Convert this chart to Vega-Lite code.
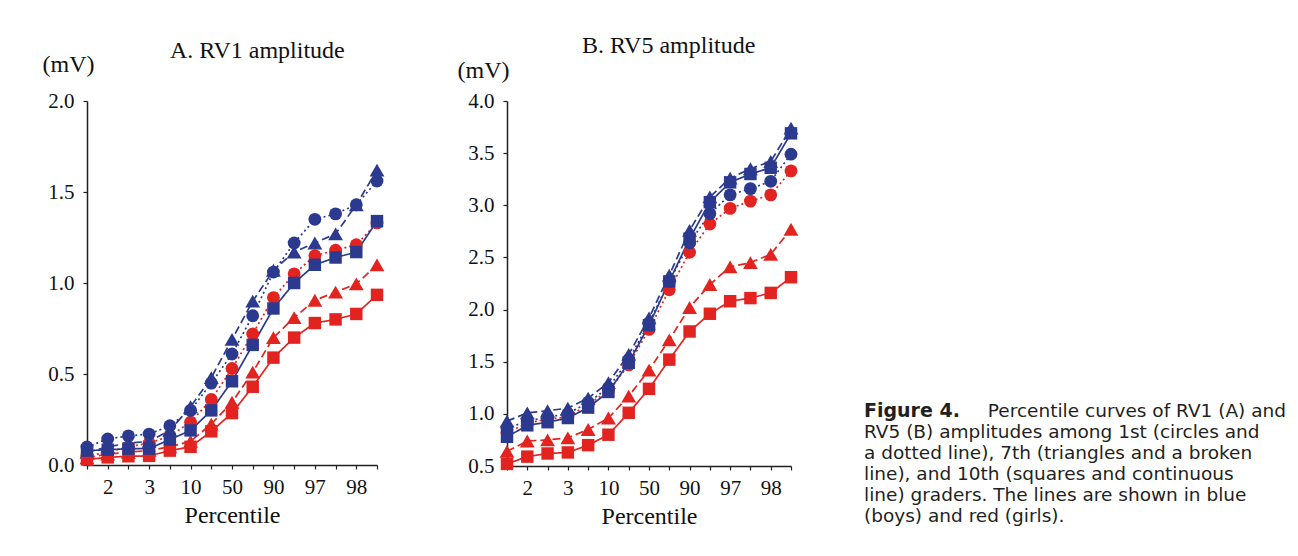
{
  "$schema": "https://vega.github.io/schema/vega-lite/v6.json",
  "background": "white",
  "padding": {"left": 42, "top": 34, "right": 5, "bottom": 5},
  "bounds": "flush",
  "spacing": 130,
  "datasets": {
    "rv1": [
      {"p":"1","s":"Girls","g":"10th","v":0.03},{"p":"2","s":"Girls","g":"10th","v":0.042},{"p":"2.5","s":"Girls","g":"10th","v":0.048},{"p":"3","s":"Girls","g":"10th","v":0.05},{"p":"5","s":"Girls","g":"10th","v":0.079},{"p":"10","s":"Girls","g":"10th","v":0.10},{"p":"25","s":"Girls","g":"10th","v":0.185},{"p":"50","s":"Girls","g":"10th","v":0.285},{"p":"75","s":"Girls","g":"10th","v":0.43},{"p":"90","s":"Girls","g":"10th","v":0.59},{"p":"95","s":"Girls","g":"10th","v":0.70},{"p":"97","s":"Girls","g":"10th","v":0.78},{"p":"97.5","s":"Girls","g":"10th","v":0.80},{"p":"98","s":"Girls","g":"10th","v":0.83},{"p":"99","s":"Girls","g":"10th","v":0.935},
      {"p":"1","s":"Girls","g":"7th","v":0.04},{"p":"2","s":"Girls","g":"7th","v":0.06},{"p":"2.5","s":"Girls","g":"7th","v":0.07},{"p":"3","s":"Girls","g":"7th","v":0.08},{"p":"5","s":"Girls","g":"7th","v":0.10},{"p":"10","s":"Girls","g":"7th","v":0.13},{"p":"25","s":"Girls","g":"7th","v":0.225},{"p":"50","s":"Girls","g":"7th","v":0.345},{"p":"75","s":"Girls","g":"7th","v":0.51},{"p":"90","s":"Girls","g":"7th","v":0.70},{"p":"95","s":"Girls","g":"7th","v":0.81},{"p":"97","s":"Girls","g":"7th","v":0.905},{"p":"97.5","s":"Girls","g":"7th","v":0.95},{"p":"98","s":"Girls","g":"7th","v":0.995},{"p":"99","s":"Girls","g":"7th","v":1.10},
      {"p":"1","s":"Girls","g":"1st","v":0.05},{"p":"2","s":"Girls","g":"1st","v":0.07},{"p":"2.5","s":"Girls","g":"1st","v":0.10},{"p":"3","s":"Girls","g":"1st","v":0.12},{"p":"5","s":"Girls","g":"1st","v":0.16},{"p":"10","s":"Girls","g":"1st","v":0.235},{"p":"25","s":"Girls","g":"1st","v":0.36},{"p":"50","s":"Girls","g":"1st","v":0.53},{"p":"75","s":"Girls","g":"1st","v":0.72},{"p":"90","s":"Girls","g":"1st","v":0.92},{"p":"95","s":"Girls","g":"1st","v":1.05},{"p":"97","s":"Girls","g":"1st","v":1.15},{"p":"97.5","s":"Girls","g":"1st","v":1.18},{"p":"98","s":"Girls","g":"1st","v":1.21},{"p":"99","s":"Girls","g":"1st","v":1.33},
      {"p":"1","s":"Boys","g":"10th","v":0.079},{"p":"2","s":"Boys","g":"10th","v":0.084},{"p":"2.5","s":"Boys","g":"10th","v":0.09},{"p":"3","s":"Boys","g":"10th","v":0.09},{"p":"5","s":"Boys","g":"10th","v":0.14},{"p":"10","s":"Boys","g":"10th","v":0.19},{"p":"25","s":"Boys","g":"10th","v":0.30},{"p":"50","s":"Boys","g":"10th","v":0.46},{"p":"75","s":"Boys","g":"10th","v":0.66},{"p":"90","s":"Boys","g":"10th","v":0.86},{"p":"95","s":"Boys","g":"10th","v":1.00},{"p":"97","s":"Boys","g":"10th","v":1.10},{"p":"97.5","s":"Boys","g":"10th","v":1.14},{"p":"98","s":"Boys","g":"10th","v":1.17},{"p":"99","s":"Boys","g":"10th","v":1.34},
      {"p":"1","s":"Boys","g":"7th","v":0.07},{"p":"2","s":"Boys","g":"7th","v":0.10},{"p":"2.5","s":"Boys","g":"7th","v":0.12},{"p":"3","s":"Boys","g":"7th","v":0.13},{"p":"5","s":"Boys","g":"7th","v":0.19},{"p":"10","s":"Boys","g":"7th","v":0.32},{"p":"25","s":"Boys","g":"7th","v":0.48},{"p":"50","s":"Boys","g":"7th","v":0.69},{"p":"75","s":"Boys","g":"7th","v":0.90},{"p":"90","s":"Boys","g":"7th","v":1.07},{"p":"95","s":"Boys","g":"7th","v":1.17},{"p":"97","s":"Boys","g":"7th","v":1.22},{"p":"97.5","s":"Boys","g":"7th","v":1.27},{"p":"98","s":"Boys","g":"7th","v":1.43},{"p":"99","s":"Boys","g":"7th","v":1.62},
      {"p":"1","s":"Boys","g":"1st","v":0.099},{"p":"2","s":"Boys","g":"1st","v":0.143},{"p":"2.5","s":"Boys","g":"1st","v":0.16},{"p":"3","s":"Boys","g":"1st","v":0.17},{"p":"5","s":"Boys","g":"1st","v":0.216},{"p":"10","s":"Boys","g":"1st","v":0.30},{"p":"25","s":"Boys","g":"1st","v":0.45},{"p":"50","s":"Boys","g":"1st","v":0.61},{"p":"75","s":"Boys","g":"1st","v":0.82},{"p":"90","s":"Boys","g":"1st","v":1.06},{"p":"95","s":"Boys","g":"1st","v":1.22},{"p":"97","s":"Boys","g":"1st","v":1.35},{"p":"97.5","s":"Boys","g":"1st","v":1.38},{"p":"98","s":"Boys","g":"1st","v":1.43},{"p":"99","s":"Boys","g":"1st","v":1.56}
    ],
    "rv5": [
      {"p":"1","s":"Girls","g":"10th","v":0.52},{"p":"2","s":"Girls","g":"10th","v":0.59},{"p":"2.5","s":"Girls","g":"10th","v":0.62},{"p":"3","s":"Girls","g":"10th","v":0.63},{"p":"5","s":"Girls","g":"10th","v":0.70},{"p":"10","s":"Girls","g":"10th","v":0.80},{"p":"25","s":"Girls","g":"10th","v":1.01},{"p":"50","s":"Girls","g":"10th","v":1.24},{"p":"75","s":"Girls","g":"10th","v":1.52},{"p":"90","s":"Girls","g":"10th","v":1.79},{"p":"95","s":"Girls","g":"10th","v":1.96},{"p":"97","s":"Girls","g":"10th","v":2.08},{"p":"97.5","s":"Girls","g":"10th","v":2.11},{"p":"98","s":"Girls","g":"10th","v":2.16},{"p":"99","s":"Girls","g":"10th","v":2.31},
      {"p":"1","s":"Girls","g":"7th","v":0.64},{"p":"2","s":"Girls","g":"7th","v":0.74},{"p":"2.5","s":"Girls","g":"7th","v":0.75},{"p":"3","s":"Girls","g":"7th","v":0.77},{"p":"5","s":"Girls","g":"7th","v":0.85},{"p":"10","s":"Girls","g":"7th","v":0.96},{"p":"25","s":"Girls","g":"7th","v":1.17},{"p":"50","s":"Girls","g":"7th","v":1.42},{"p":"75","s":"Girls","g":"7th","v":1.71},{"p":"90","s":"Girls","g":"7th","v":2.02},{"p":"95","s":"Girls","g":"7th","v":2.24},{"p":"97","s":"Girls","g":"7th","v":2.41},{"p":"97.5","s":"Girls","g":"7th","v":2.45},{"p":"98","s":"Girls","g":"7th","v":2.53},{"p":"99","s":"Girls","g":"7th","v":2.77},
      {"p":"1","s":"Girls","g":"1st","v":0.82},{"p":"2","s":"Girls","g":"1st","v":0.91},{"p":"2.5","s":"Girls","g":"1st","v":0.95},{"p":"3","s":"Girls","g":"1st","v":0.97},{"p":"5","s":"Girls","g":"1st","v":1.09},{"p":"10","s":"Girls","g":"1st","v":1.22},{"p":"25","s":"Girls","g":"1st","v":1.47},{"p":"50","s":"Girls","g":"1st","v":1.81},{"p":"75","s":"Girls","g":"1st","v":2.19},{"p":"90","s":"Girls","g":"1st","v":2.55},{"p":"95","s":"Girls","g":"1st","v":2.82},{"p":"97","s":"Girls","g":"1st","v":2.97},{"p":"97.5","s":"Girls","g":"1st","v":3.04},{"p":"98","s":"Girls","g":"1st","v":3.10},{"p":"99","s":"Girls","g":"1st","v":3.33},
      {"p":"1","s":"Boys","g":"10th","v":0.78},{"p":"2","s":"Boys","g":"10th","v":0.89},{"p":"2.5","s":"Boys","g":"10th","v":0.92},{"p":"3","s":"Boys","g":"10th","v":0.96},{"p":"5","s":"Boys","g":"10th","v":1.06},{"p":"10","s":"Boys","g":"10th","v":1.21},{"p":"25","s":"Boys","g":"10th","v":1.49},{"p":"50","s":"Boys","g":"10th","v":1.85},{"p":"75","s":"Boys","g":"10th","v":2.27},{"p":"90","s":"Boys","g":"10th","v":2.68},{"p":"95","s":"Boys","g":"10th","v":3.03},{"p":"97","s":"Boys","g":"10th","v":3.22},{"p":"97.5","s":"Boys","g":"10th","v":3.30},{"p":"98","s":"Boys","g":"10th","v":3.36},{"p":"99","s":"Boys","g":"10th","v":3.69},
      {"p":"1","s":"Boys","g":"7th","v":0.93},{"p":"2","s":"Boys","g":"7th","v":1.01},{"p":"2.5","s":"Boys","g":"7th","v":1.03},{"p":"3","s":"Boys","g":"7th","v":1.055},{"p":"5","s":"Boys","g":"7th","v":1.15},{"p":"10","s":"Boys","g":"7th","v":1.30},{"p":"25","s":"Boys","g":"7th","v":1.57},{"p":"50","s":"Boys","g":"7th","v":1.92},{"p":"75","s":"Boys","g":"7th","v":2.33},{"p":"90","s":"Boys","g":"7th","v":2.76},{"p":"95","s":"Boys","g":"7th","v":3.08},{"p":"97","s":"Boys","g":"7th","v":3.26},{"p":"97.5","s":"Boys","g":"7th","v":3.35},{"p":"98","s":"Boys","g":"7th","v":3.42},{"p":"99","s":"Boys","g":"7th","v":3.74},
      {"p":"1","s":"Boys","g":"1st","v":0.86},{"p":"2","s":"Boys","g":"1st","v":0.93},{"p":"2.5","s":"Boys","g":"1st","v":0.97},{"p":"3","s":"Boys","g":"1st","v":1.0},{"p":"5","s":"Boys","g":"1st","v":1.11},{"p":"10","s":"Boys","g":"1st","v":1.25},{"p":"25","s":"Boys","g":"1st","v":1.52},{"p":"50","s":"Boys","g":"1st","v":1.87},{"p":"75","s":"Boys","g":"1st","v":2.27},{"p":"90","s":"Boys","g":"1st","v":2.64},{"p":"95","s":"Boys","g":"1st","v":2.92},{"p":"97","s":"Boys","g":"1st","v":3.10},{"p":"97.5","s":"Boys","g":"1st","v":3.16},{"p":"98","s":"Boys","g":"1st","v":3.23},{"p":"99","s":"Boys","g":"1st","v":3.49}
    ],
    "cap": [
      {"line":1,"k":"b","t":"Figure 4."},
      {"line":1,"k":"r","t":"Percentile curves of RV1 (A) and"},
      {"line":2,"k":"l","t":"RV5 (B) amplitudes among 1st (circles and"},
      {"line":3,"k":"l","t":"a dotted line), 7th (triangles and a broken"},
      {"line":4,"k":"l","t":"line), and 10th (squares and continuous"},
      {"line":5,"k":"l","t":"line) graders. The lines are shown in blue"},
      {"line":6,"k":"l","t":"(boys) and red (girls)."}
    ]
  },
  "hconcat": [
    {
      "width": 290,
      "height": 364,
      "title": {"text": "A. RV1 amplitude", "anchor": "start", "dx": 128, "offset": -11},
      "data": {"name": "rv1"},
      "encoding": {
        "x": {"field": "p", "type": "ordinal", "sort": ["1","2","2.5","3","5","10","25","50","75","90","95","97","97.5","98","99"],
              "scale": {"type": "point", "padding": 0},
              "axis": {"title": "Percentile", "labelAngle": 0, "labelExpr": "(datum.value=='2'||datum.value=='3'||datum.value=='10'||datum.value=='50'||datum.value=='90'||datum.value=='97'||datum.value=='98') ? datum.value : ''", "tickSize": 4, "labelPadding": 7, "titlePadding": 6}},
        "y": {"field": "v", "type": "quantitative", "scale": {"domain": [0, 2], "nice": false, "zero": false},
              "axis": {"values": [0, 0.5, 1, 1.5, 2], "format": ".1f", "title": "(mV)", "titleAngle": 0, "titleX": -19, "titleY": -37, "titleAlign": "center", "titleBaseline": "middle", "tickSize": 4, "labelPadding": 9}},
        "color": {"field": "s", "type": "nominal", "scale": {"domain": ["Boys", "Girls"], "range": ["#2b3a8f", "#e3231f"]}, "legend": null}
      },
      "layer": [
        {"mark": {"type": "line", "strokeWidth": 1.7},
         "encoding": {"strokeDash": {"field": "g", "type": "nominal", "scale": {"domain": ["1st", "7th", "10th"], "range": [[2, 3], [8, 4], [1, 0]]}, "legend": null}}},
        {"transform": [{"filter": "datum.g == '1st'"}], "mark": {"type": "point", "shape": "circle", "filled": true, "opacity": 1, "size": 165}},
        {"transform": [{"filter": "datum.g == '7th'"}], "mark": {"type": "point", "shape": "triangle-up", "filled": true, "opacity": 1, "size": 220}},
        {"transform": [{"filter": "datum.g == '10th'"}], "mark": {"type": "point", "shape": "square", "filled": true, "opacity": 1, "size": 155}}
      ]
    },
    {
      "width": 284,
      "height": 365,
      "title": {"text": "B. RV5 amplitude", "anchor": "start", "dx": 125, "offset": 0},
      "data": {"name": "rv5"},
      "encoding": {
        "x": {"field": "p", "type": "ordinal", "sort": ["1","2","2.5","3","5","10","25","50","75","90","95","97","97.5","98","99"],
              "scale": {"type": "point", "padding": 0},
              "axis": {"title": "Percentile", "labelAngle": 0, "labelExpr": "(datum.value=='2'||datum.value=='3'||datum.value=='10'||datum.value=='50'||datum.value=='90'||datum.value=='97'||datum.value=='98') ? datum.value : ''", "tickSize": 4, "labelPadding": 7, "titlePadding": 6}},
        "y": {"field": "v", "type": "quantitative", "scale": {"domain": [0.5, 4], "nice": false, "zero": false},
              "axis": {"values": [0.5, 1, 1.5, 2, 2.5, 3, 3.5, 4], "format": ".1f", "title": "(mV)", "titleAngle": 0, "titleX": -24, "titleY": -31, "titleAlign": "center", "titleBaseline": "middle", "tickSize": 4, "labelPadding": 9}},
        "color": {"field": "s", "type": "nominal", "scale": {"domain": ["Boys", "Girls"], "range": ["#2b3a8f", "#e3231f"]}, "legend": null}
      },
      "layer": [
        {"mark": {"type": "line", "strokeWidth": 1.7},
         "encoding": {"strokeDash": {"field": "g", "type": "nominal", "scale": {"domain": ["1st", "7th", "10th"], "range": [[2, 3], [8, 4], [1, 0]]}, "legend": null}}},
        {"transform": [{"filter": "datum.g == '1st'"}], "mark": {"type": "point", "shape": "circle", "filled": true, "opacity": 1, "size": 165}},
        {"transform": [{"filter": "datum.g == '7th'"}], "mark": {"type": "point", "shape": "triangle-up", "filled": true, "opacity": 1, "size": 220}},
        {"transform": [{"filter": "datum.g == '10th'"}], "mark": {"type": "point", "shape": "square", "filled": true, "opacity": 1, "size": 155}}
      ]
    },
    {
      "width": 422,
      "height": 420,
      "data": {"name": "cap"},
      "encoding": {
        "y": {"field": "line", "type": "quantitative", "scale": {"domain": [-13.76, 6.24], "reverse": true, "nice": false, "zero": false}, "axis": null},
        "text": {"field": "t", "type": "nominal"}
      },
      "layer": [
        {"transform": [{"filter": "datum.k == 'b'"}],
         "mark": {"type": "text", "align": "left", "baseline": "middle", "dx": -57, "font": "DejaVu Sans", "fontWeight": "bold", "fontSize": 19, "color": "#231f20"},
         "encoding": {"x": {"datum": 0, "type": "quantitative", "scale": {"domain": [0, 1], "nice": false}, "axis": null}}},
        {"transform": [{"filter": "datum.k == 'r'"}],
         "mark": {"type": "text", "align": "right", "baseline": "middle", "dx": -57, "font": "DejaVu Sans", "fontSize": 18.5, "color": "#231f20"},
         "encoding": {"x": {"datum": 1, "type": "quantitative", "scale": {"domain": [0, 1], "nice": false}, "axis": null}}},
        {"transform": [{"filter": "datum.k == 'l'"}],
         "mark": {"type": "text", "align": "left", "baseline": "middle", "dx": -57, "font": "DejaVu Sans", "fontSize": 18.5, "color": "#231f20"},
         "encoding": {"x": {"datum": 0, "type": "quantitative", "scale": {"domain": [0, 1], "nice": false}, "axis": null}}}
      ]
    }
  ],
  "config": {
    "view": {"stroke": null},
    "axis": {"domainColor": "#231f20", "domainWidth": 1.5, "tickColor": "#231f20", "tickWidth": 1.2, "grid": false,
             "labelFont": "Liberation Serif", "labelFontSize": 21, "labelColor": "#111111",
             "titleFont": "Liberation Serif", "titleFontSize": 24, "titleFontWeight": "normal", "titleColor": "#111111"},
    "title": {"font": "Liberation Serif", "fontSize": 24, "fontWeight": "normal", "color": "#111111"}
  }
}
